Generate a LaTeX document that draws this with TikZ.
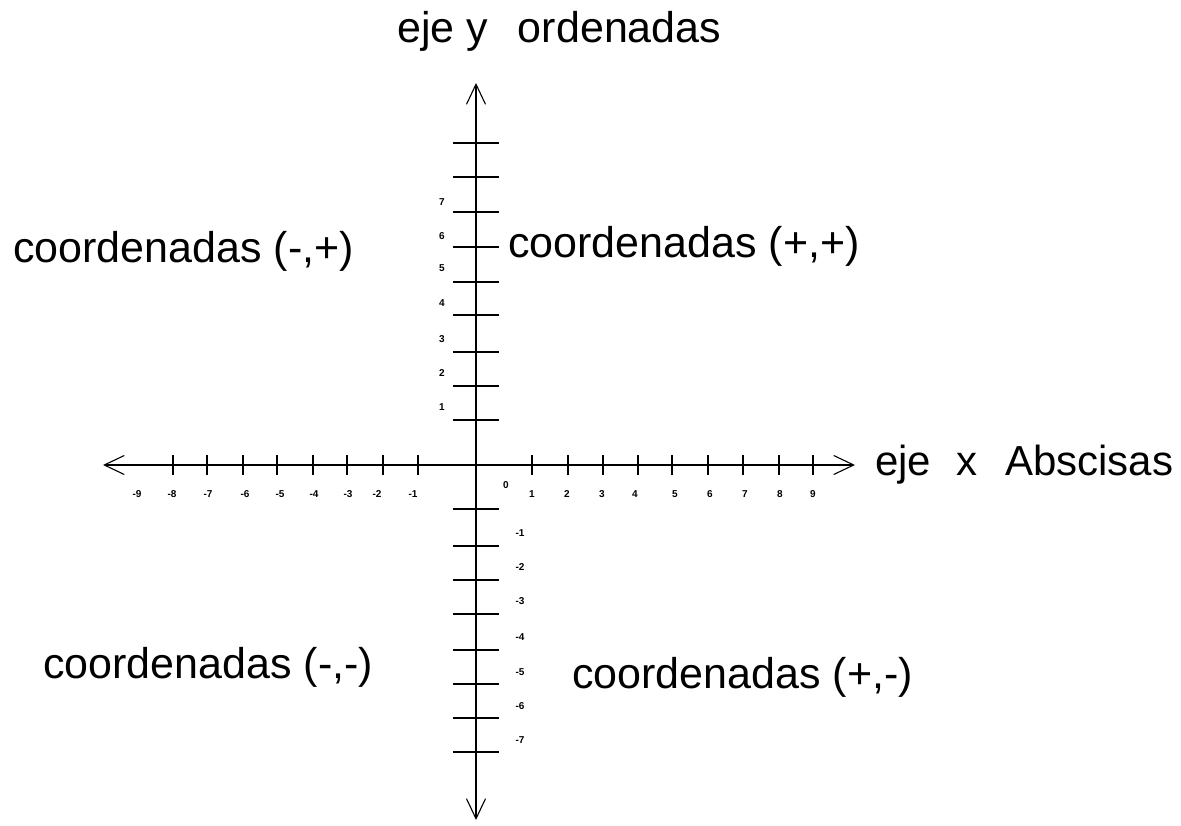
\documentclass[tikz,border=0pt]{standalone}
\usepackage{fontspec}
\setmainfont{Liberation Sans}
\usetikzlibrary{arrows.meta,positioning}
\tikzset{
  axarr/.style={{Straight Barb[length=20pt,width=19pt,line width=1.1pt]}-{Straight Barb[length=20pt,width=19pt,line width=1.1pt]},
                line width=1.6pt},
  tck/.style={line width=1.6pt},
  nlab/.style={font=\fontsize{10}{10}\selectfont\bfseries, inner sep=0pt},
  qlab/.style={font=\fontsize{43}{43}\selectfont, inner sep=0pt, anchor=base west},
}

\begin{document}
\begin{tikzpicture}[x=1pt,y=1pt]
  \useasboundingbox (-476,-360) rectangle (705,465);
  % axes
  \coordinate (xl) at (-373,0);
  \coordinate (xr) at (379,0);
  \coordinate (yt) at (0,382);
  \coordinate (yb) at (0,-355);
  \draw[axarr] (xl) -- (xr);
  \draw[axarr] (yb) -- (yt);
  % ticks
  \foreach \t in {-303,-269,-233,-199,-163,-129,-93,-58,56,92,127,162,196,232,267,303,337}
    \draw[tck] (\t,-10) -- (\t,10);
  \foreach \t in {322,288,253,218,183,150,113,79,45,-44,-81,-115,-149,-185,-219,-253,-287}
    \draw[tck] (-23,\t) -- (23,\t);
  % numbers on x
  \foreach \p/\s [count=\i] in {-339/-9,-304/-8,-268/-7,-231/-6,-196/-5,-162/-4,-128/-3,-99/-2,-63/-1,
                                56/1,91/2,126/3,159/4,199/5,234/6,269/7,304/8,337/9}
    \node[nlab] (xnum\i) at (\p,-29) {\s};
  \node[nlab] (zero) at (30,-20) {0};
  % numbers on y
  \foreach \p/\s [count=\i] in {263/7,229/6,197/5,162/4,126/3,92/2,58/1}
    \node[nlab] (ypos\i) at (-34,\p) {\s};
  \foreach \p/\s [count=\i] in {-68/-1,-102/-2,-136/-3,-172/-4,-207/-5,-241/-6,-275/-7}
    \node[nlab] (yneg\i) at (44,\p) {\s};
  % axis names
  \node[qlab] (ejey) at (-79,422) {eje y\hspace{30pt}ordenadas};
  \node[qlab, font=\fontsize{42}{42}\selectfont] (ejex) at (399,-10) {eje\hspace{25pt}x\hspace{28pt}Abscisas};
  % quadrants
  \node[qlab] (q2) at (-463,202) {coordenadas (-,+)};
  \node[qlab] (q1) at (32,207) {coordenadas (+,+)};
  \node[qlab] (q3) at (-433,-213) {coordenadas (-,-)};
  \node[qlab] (q4) at (96,-223) {coordenadas (+,-)};
\end{tikzpicture}
\end{document}
